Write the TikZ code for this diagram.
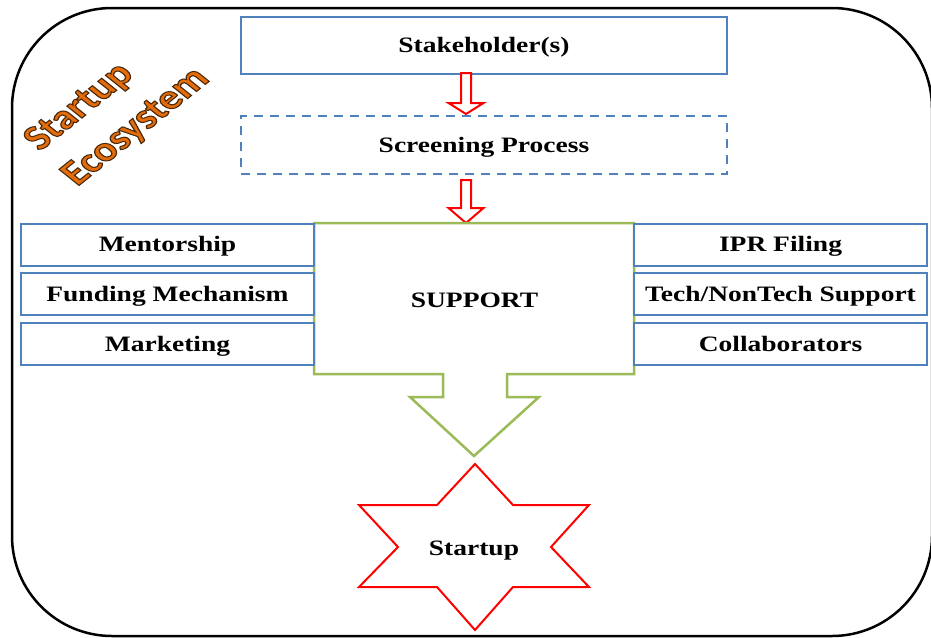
\documentclass[tikz,border=0pt]{standalone}
\usepackage{fontspec}
\setmainfont{Liberation Serif}[FakeStretch=1.25]
\newfontfamily\ecofont{Carlito}
\usetikzlibrary{calc}
\definecolor{boxblue}{HTML}{4F81BD}
\definecolor{leafgreen}{HTML}{9BBB59}
\definecolor{ecoorange}{HTML}{E46C0A}
\definecolor{ecobrown}{HTML}{4A2A0A}
\newcommand\boxfont{\fontsize{22}{26}\selectfont\bfseries}
\newcommand\outlined[1]{\special{pdf:literal direct 2 Tr 1.0 w 0.29 0.16 0.04 RG}#1\special{pdf:literal direct 0 Tr}}
\tikzset{
  bluebox/.style={draw=boxblue, line width=2pt, fill=white, inner sep=0pt, font=\boxfont, text height=14.5pt, text depth=0pt},
  sidebox/.style={bluebox, minimum width=293pt, minimum height=42pt},
  redarrow/.style={draw=red, line width=2pt, fill=white, line join=miter},
  greenshape/.style={draw=leafgreen, line width=2.5pt, fill=white, line join=miter},
  starshape/.style={draw=red, line width=2pt, fill=white, line join=miter},
  ecotext/.style={font=\ecofont\bfseries\fontsize{35}{46}\selectfont, text=ecoorange, inner sep=0pt, align=center},
  plain/.style={font=\boxfont, inner sep=0pt, text height=14.5pt, text depth=0pt}
}
\begin{document}
\begin{tikzpicture}[x=1pt,y=-1pt]
\useasboundingbox (0,0) rectangle (931,637);
\fill[white] (0,0) rectangle (931,637);
% outer frame
\draw[line width=2.5pt, rounded corners=100pt] (12,8) rectangle (932,636);

% title
\node[ecotext, xscale=1.25, rotate=45, transform shape] (eco) at (116,111)
  {\outlined{Startup}\hspace*{36pt}\\\outlined{Ecosystem}};

% top boxes
\node[bluebox, minimum width=486pt, minimum height=57pt] (stake) at (484,45.5) {Stakeholder(s)};
\node[bluebox, dashed, dash pattern=on 9pt off 7pt, minimum width=486pt, minimum height=58pt] (screen) at (484,145) {Screening Process};

% hollow arrows
\coordinate (a1) at (466,73);
\coordinate (a2) at (466,180);
\draw[redarrow] ($(a1)+(-5,0)$) -- ($(a1)+(5,0)$) -- ($(a1)+(5,30)$) -- ($(a1)+(17.5,30)$)
  -- ($(a1)+(0,41)$) -- ($(a1)+(-17.5,30)$) -- ($(a1)+(-5,30)$) -- cycle;
\draw[redarrow] ($(a2)+(-5,0)$) -- ($(a2)+(5,0)$) -- ($(a2)+(5,28)$) -- ($(a2)+(17.5,28)$)
  -- ($(a2)+(0,43)$) -- ($(a2)+(-17.5,28)$) -- ($(a2)+(-5,28)$) -- cycle;

% support arrow shape
\draw[greenshape] (314,223) -- (634,223) -- (634,374) -- (507,374) -- (507,397) -- (539,397)
  -- (474,456) -- (410,397) -- (443,397) -- (443,374) -- (314,374) -- cycle;
\node[plain] (support) at (474.5,300) {SUPPORT};

% side boxes
\node[sidebox] (mentor) at (167.5,244.5) {Mentorship};
\node[sidebox] (fund) at (167.5,294) {Funding Mechanism};
\node[sidebox] (market) at (167.5,344) {Marketing};
\node[sidebox] (ipr) at (780.5,244.5) {IPR Filing};
\node[sidebox] (tech) at (780.5,294) {Tech/NonTech Support};
\node[sidebox] (collab) at (780.5,344) {Collaborators};

% star
\draw[starshape] (475,464) -- (513,505) -- (589,505) -- (551,547) -- (589,587) -- (513,587)
  -- (475,630) -- (437,587) -- (359,587) -- (398,547) -- (359,505) -- (437,505) -- cycle;
\node[plain] (startup) at (474,548) {Startup};
\end{tikzpicture}
\end{document}
